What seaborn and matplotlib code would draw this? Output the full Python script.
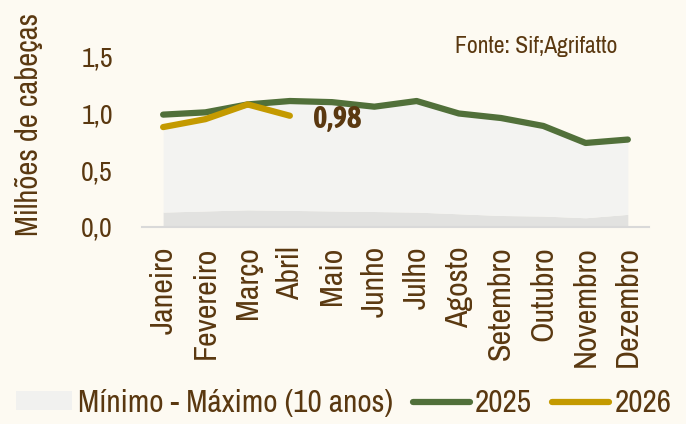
import matplotlib
matplotlib.use("Agg")
import matplotlib.pyplot as plt
import seaborn as sns
import pandas as pd
import numpy as np
from matplotlib.lines import Line2D
from matplotlib.patches import Patch

months = ["Janeiro", "Fevereiro", "Março", "Abril", "Maio", "Junho", "Julho",
          "Agosto", "Setembro", "Outubro", "Novembro", "Dezembro"]
v2025 = [0.99, 1.01, 1.08, 1.11, 1.10, 1.06, 1.11, 1.00, 0.96, 0.89, 0.74, 0.77]
v2026 = [0.88, 0.95, 1.08, 0.98]
band_min = [0.13, 0.14, 0.15, 0.145, 0.14, 0.135, 0.13, 0.115, 0.10, 0.095, 0.08, 0.11]
band_max = [0.88, 0.95, 1.07, 1.10, 1.10, 1.06, 1.11, 1.00, 0.96, 0.89, 0.74, 0.77]
yticks = [0.0, 0.5, 1.0, 1.5]
ytick_labels = ["0,0", "0,5", "1,0", "1,5"]

BG = "#FDFAF2"
TXT = "#5A3810"
GREEN = "#51703A"
GOLD = "#C49A00"

sns.set_theme(style="white")
plt.rcParams["font.family"] = ["Archivo Narrow", "DejaVu Sans"]

fig = plt.figure(figsize=(6.86, 4.24), dpi=100, facecolor=BG)
ax = fig.add_axes([0.207, 0.465, 0.739, 0.401])
ax.set_facecolor(BG)

x = np.arange(len(months))
ax.fill_between(x, 0, band_min, color="#E2E2E0", lw=0, zorder=1)
ax.fill_between(x, band_min, band_max, color="#F3F3F1", lw=0, zorder=1)

df25 = pd.DataFrame({"x": x, "v": v2025})
df26 = pd.DataFrame({"x": x[:len(v2026)], "v": v2026})
sns.lineplot(data=df25, x="x", y="v", color=GREEN, lw=4.5, ax=ax, zorder=3,
             solid_capstyle="round", solid_joinstyle="round")
sns.lineplot(data=df26, x="x", y="v", color=GOLD, lw=4.5, ax=ax, zorder=4,
             solid_capstyle="round", solid_joinstyle="round")

ax.text(3 + 0.55, v2026[-1] - 0.035, "0,98", color=TXT, fontsize=22, fontweight="bold",
        family=["Asap Condensed", "DejaVu Sans"], va="center", ha="left")

ax.set_xlim(-0.5, 11.5)
ax.set_ylim(0, 1.5)
ax.set_xticks(x)
ax.set_xticklabels(months, rotation=90, color=TXT, fontsize=23)
ax.set_yticks(yticks)
ax.set_yticklabels(ytick_labels, color=TXT, fontsize=20)
ax.tick_params(axis="x", length=0, pad=14)
ax.tick_params(axis="y", length=0, pad=21)
ax.set_xlabel("")
ax.set_ylabel("Milhões de cabeças", color=TXT, fontsize=22)
ax.yaxis.set_label_coords(-0.195, 0.6)
for s in ["top", "right", "left"]:
    ax.spines[s].set_visible(False)
ax.spines["bottom"].set_color("#D9D9D9")
ax.spines["bottom"].set_linewidth(1.5)

fig.text(0.663, 0.876, "Fonte: Sif;Agrifatto", color=TXT, fontsize=17, va="baseline")

handles = [Patch(facecolor="#F1F1EF", edgecolor="none"),
           Line2D([0], [0], color=GREEN, lw=4.5, solid_capstyle="round"),
           Line2D([0], [0], color=GOLD, lw=4.5, solid_capstyle="round")]
labels = ["Mínimo - Máximo (10 anos)", "2025", "2026"]
leg = fig.legend(handles, labels, loc="center", bbox_to_anchor=(0.501, 0.05), ncol=3,
                 frameon=False, fontsize=22.5, handlelength=1.8, handleheight=0.55,
                 handletextpad=0.18, columnspacing=0.65, labelcolor=TXT,
                 borderpad=0, borderaxespad=0)

fig.savefig("out.png", dpi=100, facecolor=BG)
